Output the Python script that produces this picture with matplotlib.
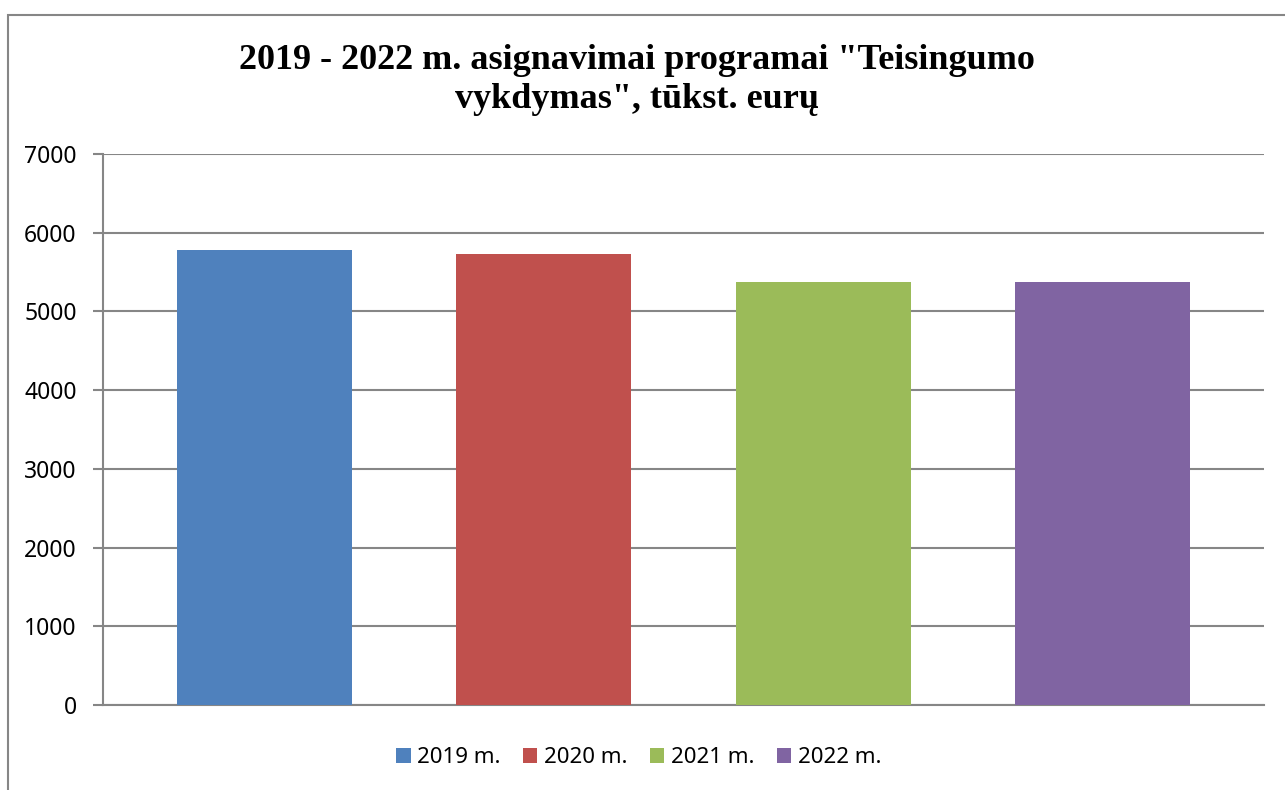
import matplotlib.pyplot as plt
from matplotlib.patches import Rectangle, Patch

# data
years = ["2019 m.", "2020 m.", "2021 m.", "2022 m."]
values = [5780, 5730, 5375, 5375]
colors = ["#4F81BD", "#C0504D", "#9BBB59", "#8064A2"]
yticks = [0, 1000, 2000, 3000, 4000, 5000, 6000, 7000]

grid_col = "#868686"

fig = plt.figure(figsize=(12.85, 7.9), dpi=100)
ax = fig.add_axes([103 / 1285, 1 - 705 / 790, (1264 - 103) / 1285, (705 - 154) / 790])

x = range(len(values))
ax.bar(x, values, width=0.627, color=colors, zorder=3)

ax.set_xlim(-0.58, 3.58)
ax.set_ylim(0, 7000)
ax.set_yticks(yticks)
ax.set_yticklabels([str(v) for v in yticks], fontsize=16.5, family="Noto Sans")
ax.set_xticks([])
ax.yaxis.grid(True, color=grid_col, linewidth=1.5, zorder=0)
ax.tick_params(axis="y", length=7, width=1.5, color=grid_col, pad=12)

for s in ["top", "right"]:
    ax.spines[s].set_visible(False)
for s in ["left", "bottom"]:
    ax.spines[s].set_color(grid_col)
    ax.spines[s].set_linewidth(1.5)

fig.text(0.496, 0.899, "2019 - 2022 m. asignavimai programai \"Teisingumo\nvykdymas\", tūkst. eurų",
         ha="center", va="center", fontsize=26, fontweight="bold",
         family="Liberation Serif", linespacing=1.25)

handles = [Patch(facecolor=c, edgecolor="none") for c in colors]
fig.legend(handles, years, loc="center", bbox_to_anchor=(0.497, 0.041), ncol=4,
           frameon=False, prop={"family": "Noto Sans", "size": 16},
           handlelength=0.65, handleheight=0.65, handletextpad=0.3, columnspacing=1.0)

# outer chart frame
fig.patches.append(Rectangle((8 / 1285, -0.1), 1.1, 1.1 - 15 / 790,
                             transform=fig.transFigure, fill=False,
                             edgecolor=grid_col, linewidth=1.5, clip_on=False))

fig.savefig("out.png", dpi=100)
